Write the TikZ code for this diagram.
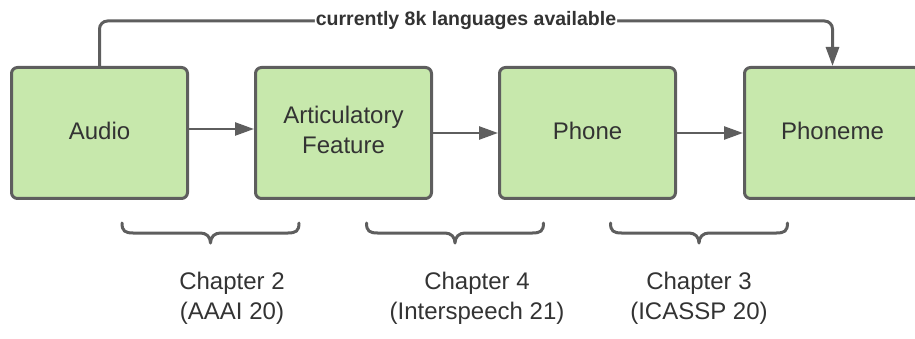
\documentclass[tikz,border=0pt]{standalone}
\usepackage{fontspec}
\setmainfont{Liberation Sans}
\usetikzlibrary{arrows.meta}
\definecolor{boxfill}{HTML}{C7E8AC}
\definecolor{edge}{HTML}{5E5E5E}
\definecolor{ink}{HTML}{333333}
\tikzset{
  stage/.style={draw=edge, fill=boxfill, line width=3pt, rounded corners=6pt,
    minimum width=176pt, minimum height=131pt, align=center, text=ink,
    font=\fontsize{24}{30}\selectfont, inner sep=0pt, text depth=5pt},
  flow/.style={draw=edge, line width=2.5pt, -{Triangle[length=19pt,width=13pt]}},
  chapter/.style={align=center, text=ink, font=\fontsize{24}{30}\selectfont},
  bracepath/.style={draw=edge, line width=3pt, line cap=round, line join=round},
}
\newcommand{\chapbrace}[3]{% left x, right x, tip x
  \draw[bracepath] (#1,223) .. controls (#1,231) and (#1+3,233) .. (#1+11,233)
    -- (#3-10,233) .. controls (#3-4,233) and (#3,237) .. (#3,243)
    .. controls (#3,237) and (#3+4,233) .. (#3+10,233)
    -- (#2-11,233) .. controls (#2-3,233) and (#2,231) .. (#2,223);}
\begin{document}
\begin{tikzpicture}[x=1pt, y=-1pt]
  \useasboundingbox (0,0) rectangle (915,339);

  % processing stages
  \node[stage] (audio)   at (99.5,133)  {Audio};
  \node[stage, text depth=6pt] (artic) at (343.5,133) {Articulatory\\Feature};
  \node[stage] (phone)   at (587.5,133) {Phone};
  \node[stage] (phoneme) at (832.5,133) {Phoneme};

  % stage-to-stage arrows
  \draw[flow] ([yshift=4pt]audio.east) -- ([yshift=4pt]artic.west);
  \draw[flow] (artic.east) -- (phone.west);
  \draw[flow] (phone.east) -- (phoneme.west);

  % direct shortcut over the top
  \coordinate (upL) at (99.5,21);
  \coordinate (upR) at (832.5,21);
  \draw[flow, line width=3pt, rounded corners=8pt]
    (audio.north) -- (upL) -- node[fill=white, inner sep=1pt, text=ink,
      font=\fontsize{19.5}{22}\selectfont\bfseries] (lbl) {currently 8k languages available}
    (upR) -- (phoneme.north);

  % chapter braces
  \chapbrace{122}{299}{210.5}
  \chapbrace{366.5}{543.5}{455}
  \chapbrace{610.5}{787.5}{699}

  % chapter captions
  \node[chapter] (c2) at (232,298) {Chapter 2\\(AAAI 20)};
  \node[chapter] (c4) at (477,298) {Chapter 4\\(Interspeech 21)};
  \node[chapter] (c3) at (699,298) {Chapter 3\\(ICASSP 20)};
\end{tikzpicture}
\end{document}
